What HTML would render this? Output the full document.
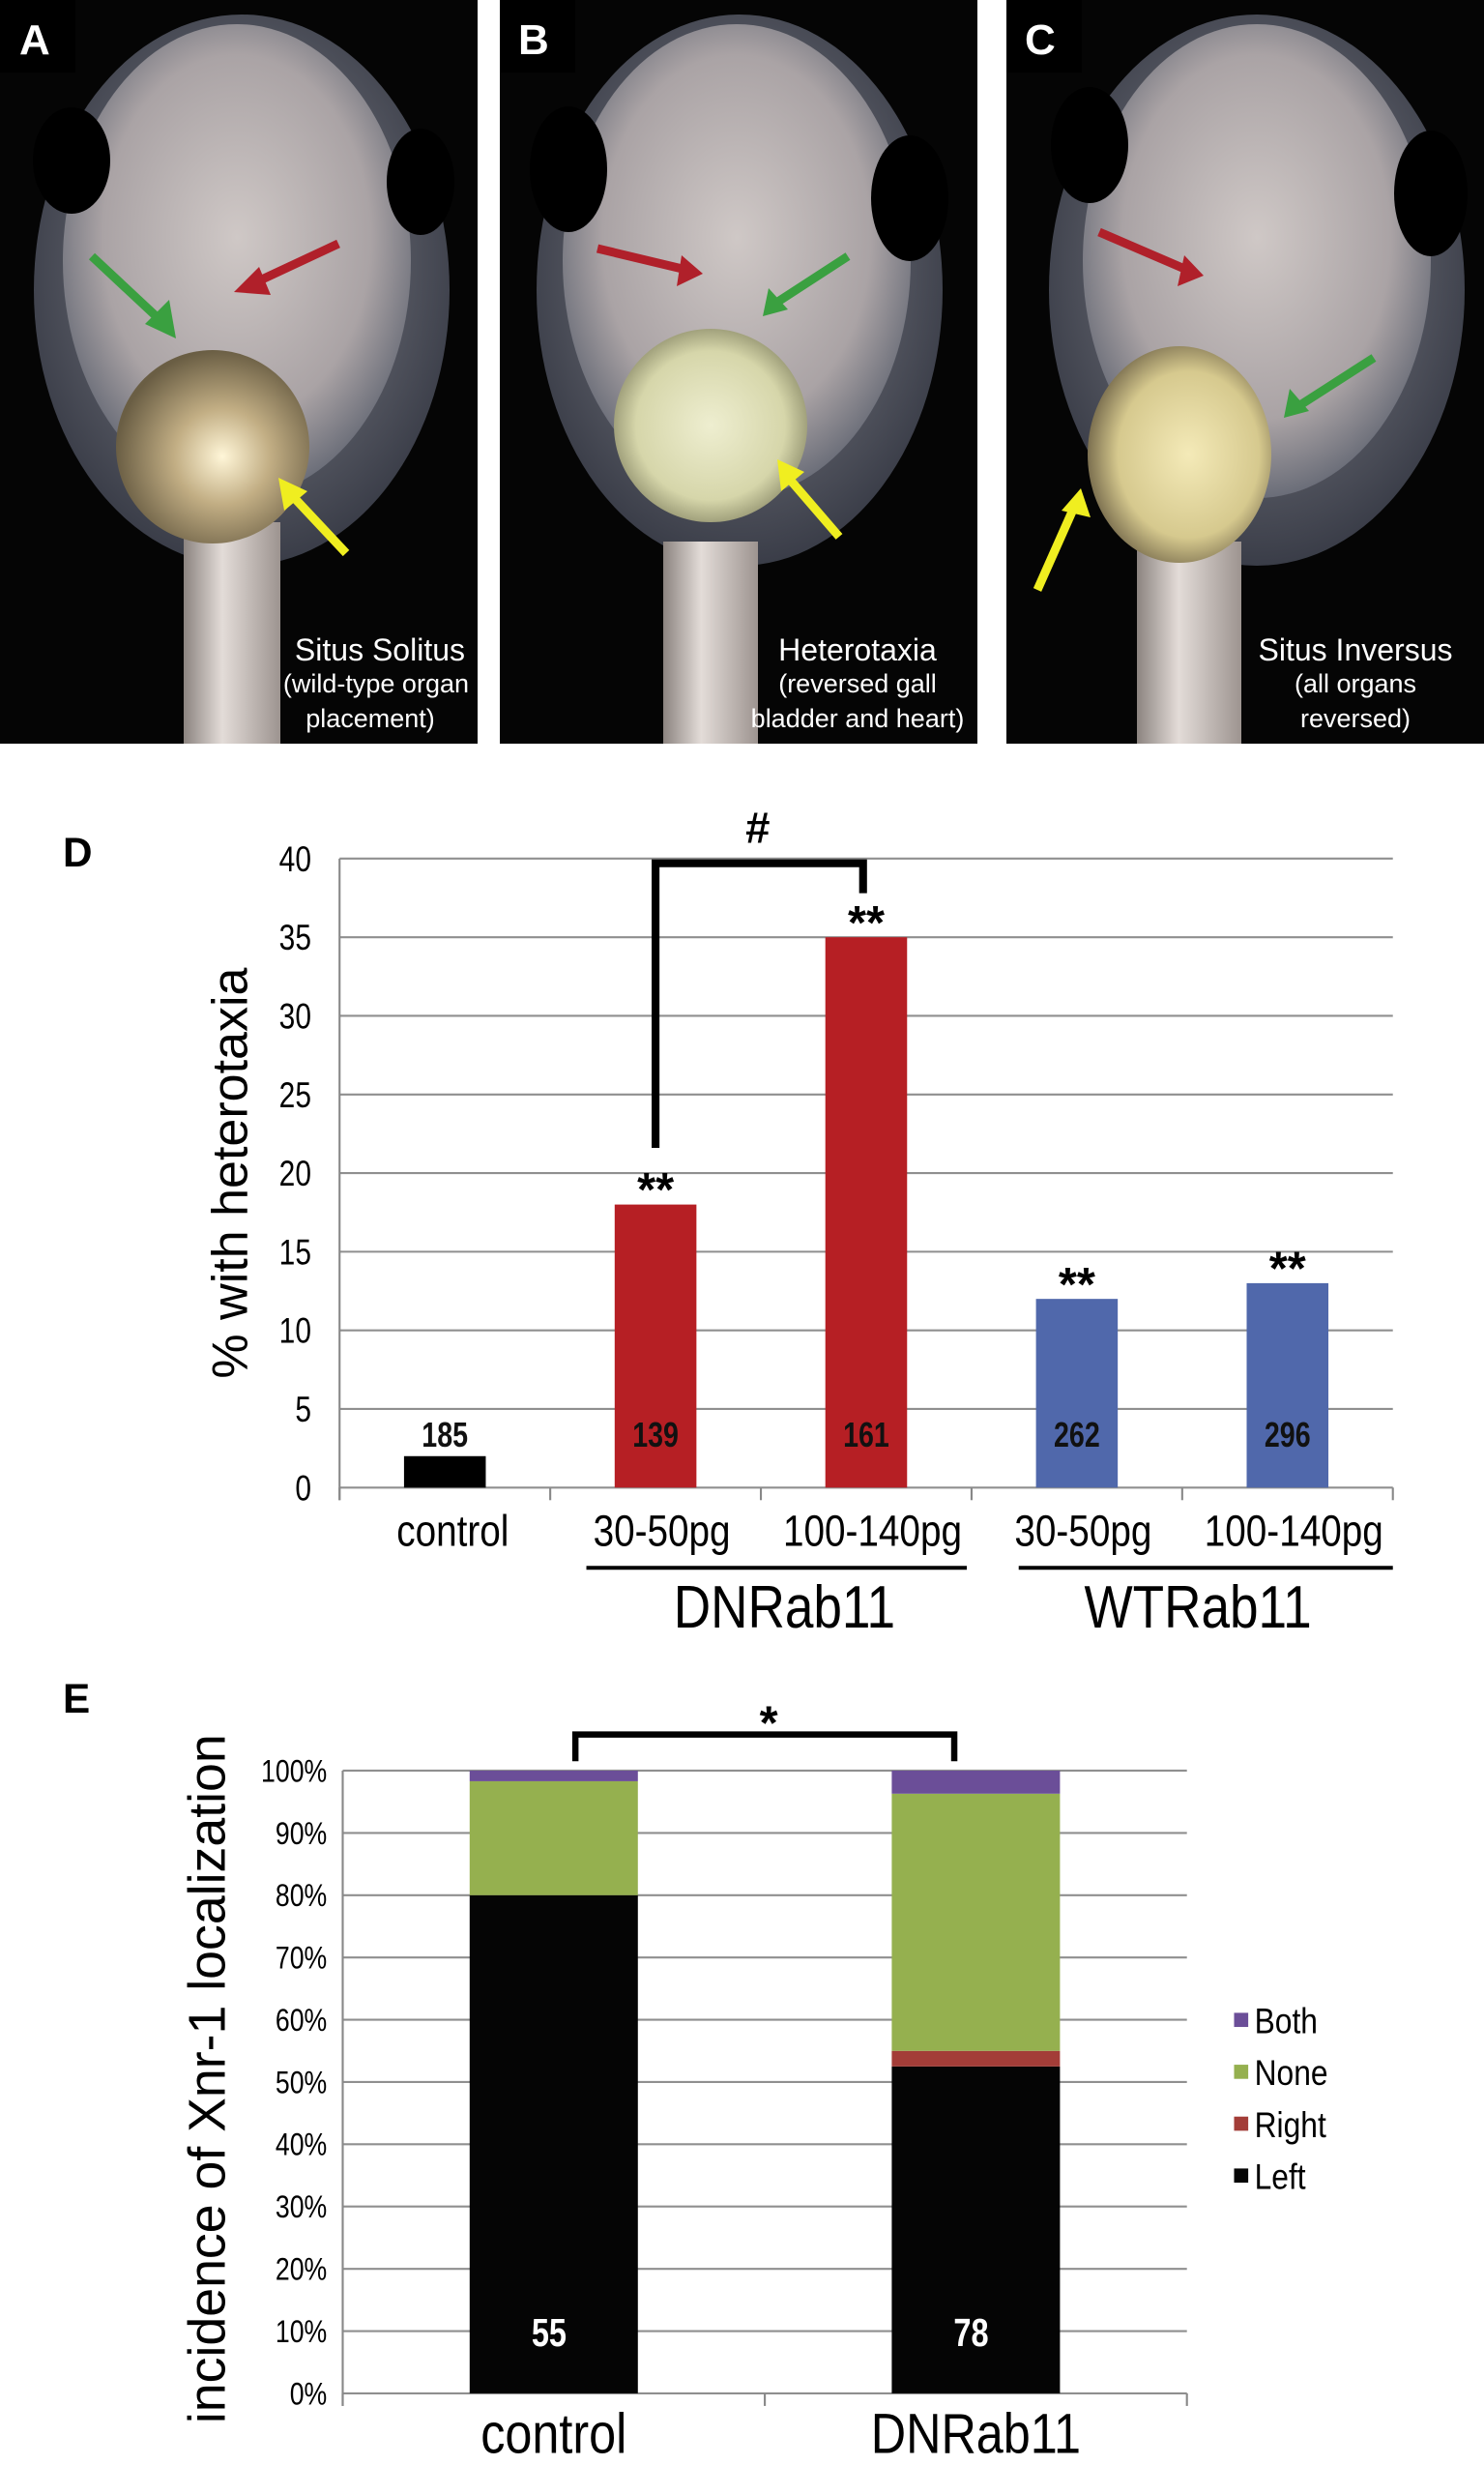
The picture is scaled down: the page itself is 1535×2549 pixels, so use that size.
<!DOCTYPE html>
<html><head><meta charset="utf-8">
<style>
html,body{margin:0;padding:0;background:#fff;}
svg{display:block;}
text{font-family:"Liberation Sans",sans-serif;}
</style></head>
<body>
<svg id="fig" width="1535" height="2549" viewBox="0 0 1535 2549" xmlns="http://www.w3.org/2000/svg">
<defs>
<radialGradient id="headG" cx="50%" cy="45%" r="55%"><stop offset="0" stop-color="#cfc8c6"/><stop offset="0.7" stop-color="#aaa3a5"/><stop offset="1" stop-color="#6a6d78"/></radialGradient>
<radialGradient id="gutA" cx="55%" cy="55%" r="55%"><stop offset="0" stop-color="#fff6d8"/><stop offset="0.45" stop-color="#c2ae84"/><stop offset="1" stop-color="#6a5e44"/></radialGradient>
<radialGradient id="gutB" cx="50%" cy="50%" r="55%"><stop offset="0" stop-color="#eeeed0"/><stop offset="0.7" stop-color="#d6d6aa"/><stop offset="1" stop-color="#8a8a68"/></radialGradient>
<radialGradient id="gutC" cx="55%" cy="50%" r="55%"><stop offset="0" stop-color="#f4eab8"/><stop offset="0.7" stop-color="#d6c98e"/><stop offset="1" stop-color="#7c7050"/></radialGradient>
<radialGradient id="bodyG" cx="50%" cy="45%" r="55%"><stop offset="0" stop-color="#8a8b93"/><stop offset="1" stop-color="#3a3d48"/></radialGradient>
<linearGradient id="tailG" x1="0" x2="1" y1="0" y2="0"><stop offset="0" stop-color="#8c8480"/><stop offset="0.4" stop-color="#e3dcd8"/><stop offset="1" stop-color="#9d9490"/></linearGradient>
</defs>

<g>
<rect x="0" y="0" width="494" height="769" fill="#050505"/>
<ellipse cx="250" cy="300" rx="215" ry="285" fill="url(#bodyG)"/>
<ellipse cx="245" cy="270" rx="180" ry="245" fill="url(#headG)"/>
<rect x="190" y="540" width="100" height="229" fill="url(#tailG)"/>
<ellipse cx="74" cy="166" rx="40" ry="55" fill="#000"/>
<ellipse cx="435" cy="188" rx="35" ry="55" fill="#000"/>
<circle cx="220" cy="462" r="100" fill="url(#gutA)"/>
<line x1="350" y1="252" x2="258" y2="295" stroke="#b0202a" stroke-width="9"/><polygon points="242,302 268,276 280,305" fill="#b0202a"/>
<line x1="95" y1="265" x2="170" y2="335" stroke="#3aa040" stroke-width="9"/><polygon points="182,350 150,335 175,310" fill="#3aa040"/>
<line x1="358" y1="572" x2="298" y2="508" stroke="#f0ee20" stroke-width="9"/><polygon points="288,494 318,508 294,528" fill="#f0ee20"/>
<rect x="0" y="0" width="78" height="75" fill="#000"/>
<text x="20" y="56" font-size="44" font-weight="bold" fill="#fff">A</text>
<text x="481" y="683" font-size="32" fill="#fff" text-anchor="end">Situs Solitus</text>
<text x="485" y="716" font-size="27" fill="#fff" text-anchor="end">(wild-type organ</text>
<text x="383" y="752" font-size="27" fill="#fff" text-anchor="middle">placement)</text>
</g>

<g>
<rect x="517" y="0" width="494" height="769" fill="#050505"/>
<ellipse cx="765" cy="300" rx="210" ry="285" fill="url(#bodyG)"/>
<ellipse cx="762" cy="270" rx="180" ry="245" fill="url(#headG)"/>
<rect x="686" y="560" width="98" height="209" fill="url(#tailG)"/>
<ellipse cx="588" cy="175" rx="40" ry="65" fill="#000"/>
<ellipse cx="941" cy="205" rx="40" ry="65" fill="#000"/>
<circle cx="735" cy="440" r="100" fill="url(#gutB)"/>
<line x1="618" y1="257" x2="710" y2="279" stroke="#b0202a" stroke-width="9"/><polygon points="727,283 700,296 705,264" fill="#b0202a"/>
<line x1="877" y1="265" x2="800" y2="315" stroke="#3aa040" stroke-width="9"/><polygon points="789,327 795,298 815,320" fill="#3aa040"/>
<line x1="868" y1="555" x2="812" y2="490" stroke="#f0ee20" stroke-width="9"/><polygon points="804,475 832,488 808,508" fill="#f0ee20"/>
<rect x="517" y="0" width="78" height="75" fill="#000"/>
<text x="536" y="56" font-size="44" font-weight="bold" fill="#fff">B</text>
<text x="887" y="683" font-size="32" fill="#fff" text-anchor="middle">Heterotaxia</text>
<text x="887" y="716" font-size="27" fill="#fff" text-anchor="middle">(reversed gall</text>
<text x="887" y="752" font-size="27" fill="#fff" text-anchor="middle">bladder and heart)</text>
</g>

<g>
<rect x="1041" y="0" width="494" height="769" fill="#050505"/>
<ellipse cx="1300" cy="300" rx="215" ry="285" fill="url(#bodyG)"/>
<ellipse cx="1300" cy="270" rx="180" ry="245" fill="url(#headG)"/>
<rect x="1176" y="560" width="108" height="209" fill="url(#tailG)"/>
<ellipse cx="1127" cy="150" rx="40" ry="60" fill="#000"/>
<ellipse cx="1480" cy="200" rx="38" ry="65" fill="#000"/>
<ellipse cx="1220" cy="470" rx="95" ry="112" fill="url(#gutC)"/>
<line x1="1137" y1="240" x2="1230" y2="280" stroke="#b0202a" stroke-width="9"/><polygon points="1245,285 1218,296 1225,264" fill="#b0202a"/>
<line x1="1421" y1="370" x2="1340" y2="422" stroke="#3aa040" stroke-width="9"/><polygon points="1328,432 1334,402 1354,425" fill="#3aa040"/>
<line x1="1073" y1="610" x2="1113" y2="520" stroke="#f0ee20" stroke-width="9"/><polygon points="1118,505 1128,535 1098,528" fill="#f0ee20"/>
<rect x="1041" y="0" width="78" height="75" fill="#000"/>
<text x="1060" y="56" font-size="44" font-weight="bold" fill="#fff">C</text>
<text x="1402" y="683" font-size="32" fill="#fff" text-anchor="middle">Situs Inversus</text>
<text x="1402" y="716" font-size="27" fill="#fff" text-anchor="middle">(all organs</text>
<text x="1402" y="752" font-size="27" fill="#fff" text-anchor="middle">reversed)</text>
</g>

<g transform="scale(1.6261)">
  <g id="chartD">
    <text x="40" y="551" font-size="26" font-weight="bold">D</text>
    <g id="dGrid"></g>
    <text transform="translate(157,746) rotate(-90)" text-anchor="middle" font-size="32">% with heterotaxia</text>
    <g id="dBars"></g>
    <path d="M417,730 L417,549 L549,549 L549,568" fill="none" stroke="#000" stroke-width="5"/>
    <text x="482" y="536" font-size="28" font-weight="bold" text-anchor="middle">#</text>
    <line x1="373" y1="997" x2="615" y2="997" stroke="#000" stroke-width="2.5"/>
    <line x1="648" y1="997" x2="886" y2="997" stroke="#000" stroke-width="2.5"/>
    <text class="n" x="499" y="1035" font-size="38" text-anchor="middle">DNRab11</text>
    <text class="n" x="762" y="1035" font-size="38" text-anchor="middle">WTRab11</text>
  </g>
  <g id="chartE">
    <text x="40" y="1089" font-size="26" font-weight="bold">E</text>
    <g id="eGrid"></g>
    <text transform="translate(143,1322) rotate(-90)" text-anchor="middle" font-size="33">incidence of Xnr-1 localization</text>
    <g id="eBars"></g>
    <path d="M366,1120 L366,1103 L607,1103 L607,1120" fill="none" stroke="#000" stroke-width="4"/>
    <text x="489" y="1106" font-size="30" font-weight="bold" text-anchor="middle">*</text>
    <g id="eLegend"></g>
  </g>
</g>
</svg>
<script>
const NS="http://www.w3.org/2000/svg";
// Chart D data
const dCategories=["control","30-50pg","100-140pg","30-50pg","100-140pg"];
const dValues=[2,18,35,12,13];
const dCounts=["185","139","161","262","296"];
const dStars=["","**","**","**","**"];
const dTicks=[0,5,10,15,20,25,30,35,40];
// Chart E data
const eCategories=["control","DNRab11"];
const eSeries=["Left","Right","None","Both"];
const eLeft=[80,52.5];
const eRight=[0,2.5];
const eNone=[18.3,41.3];
const eBoth=[1.7,3.7];
const eCounts=["55","78"];
const eTicks=[0,10,20,30,40,50,60,70,80,90,100];

function mk(tag,attrs,parent,txt){const e=document.createElementNS(NS,tag);for(const k in attrs)e.setAttribute(k,attrs[k]);if(txt!==undefined)e.textContent=txt;parent.appendChild(e);return e;}
function condense(el,s){const x=parseFloat(el.getAttribute('x'));el.setAttribute('transform','translate('+x+' 0) scale('+s+' 1) translate('+(-x)+' 0)');}

const dX0=216,dX1=886,dY0=946,dY1=546,dMax=40;
const dy=v=>dY0-(v/dMax)*(dY0-dY1);
const dBand=(dX1-dX0)/dCategories.length;
const dx=i=>dX0+dBand*(i+0.5);
const dColors=["#000000","#b61f24","#b61f24","#5068ab","#5068ab"];
const dG=document.getElementById('dGrid'), dB=document.getElementById('dBars');
dTicks.forEach(t=>{
  const l=mk('line',{x1:dX0,x2:dX1,y1:dy(t),y2:dy(t),stroke:'#8f8f8f','stroke-width':1.3},dG);
  
  
  const tx=mk('text',{x:dX0-18,y:dy(t)+8,'font-size':23,'text-anchor':'end'},dG,String(t));
  
  
  condense(tx,0.8);
});
mk('line',{x1:dX0,x2:dX0,y1:dY1,y2:dY0+8,stroke:'#888','stroke-width':1.3},dG);
for(let i=0;i<=dCategories.length;i++){mk('line',{x1:dX0+dBand*i,x2:dX0+dBand*i,y1:dY0,y2:dY0+8,stroke:'#888','stroke-width':1.3},dG);}
dCategories.forEach((c,i)=>{
  const cx=dx(i), top=dy(dValues[i]);
  const r=mk('rect',{x:cx-26,y:top,width:52,height:dY0-top,fill:dColors[i]},dB);
  
  
  const n=mk('text',{x:cx,y:920,'font-size':22,'font-weight':'bold','text-anchor':'middle',fill:'#111'},dB,dCounts[i]);
  
  
  condense(n,0.8);
  if(dStars[i]){
    const s=mk('text',{x:cx,y:top+1,'font-size':30,'font-weight':'bold','text-anchor':'middle'},dB,dStars[i]);
    
    
  }
  const lb=mk('text',{x:cx+(i===0?5:4),y:983,'font-size':28,'text-anchor':'middle'},dB,c);
  
  
  condense(lb,0.85);
});

const eX0=218,eX1=755,eY0=1522,eY1=1126;
const ey=v=>eY0-(v/100)*(eY0-eY1);
const eBand=(eX1-eX0)/eCategories.length;
const ex=i=>eX0+eBand*(i+0.5);
const eColors={Left:"#050505",Right:"#a33d38",None:"#95b04f",Both:"#6b4e98"};
const eData={Left:eLeft,Right:eRight,None:eNone,Both:eBoth};
const eG=document.getElementById('eGrid'), eB=document.getElementById('eBars');
eTicks.forEach(t=>{
  const l=mk('line',{x1:eX0,x2:eX1,y1:ey(t),y2:ey(t),stroke:'#8f8f8f','stroke-width':1.3},eG);
  
  
  const tx=mk('text',{x:eX0-10,y:ey(t)+7,'font-size':20,'text-anchor':'end'},eG,t+'%');
  
  
  condense(tx,0.82);
});
mk('line',{x1:eX0,x2:eX0,y1:eY1,y2:eY0+8,stroke:'#888','stroke-width':1.3},eG);
for(let i=0;i<=eCategories.length;i++){mk('line',{x1:eX0+eBand*i,x2:eX0+eBand*i,y1:eY0,y2:eY0+8,stroke:'#888','stroke-width':1.3},eG);}
eCategories.forEach((c,i)=>{
  const cx=ex(i); let acc=0;
  eSeries.forEach(s=>{
    const v=eData[s][i]; if(v<=0){return;}
    const r=mk('rect',{x:cx-53.5,y:ey(acc+v),width:107,height:ey(acc)-ey(acc+v),fill:eColors[s]},eB);
    
    
    acc+=v;
  });
  const n=mk('text',{x:cx-3,y:1492,'font-size':25,'font-weight':'bold','text-anchor':'middle',fill:'#fff'},eB,eCounts[i]);
  
  
  condense(n,0.8);
  const lb=mk('text',{x:cx,y:1560,'font-size':36,'text-anchor':'middle'},eB,c);
  
  
  condense(lb,0.86);
});
const eL=document.getElementById('eLegend');
["Both","None","Right","Left"].forEach((s,k)=>{
  const y=1285+33*k;
  const g=mk('g',{},eL);
  
  
  mk('rect',{x:785,y:y-5,width:9,height:9,fill:eColors[s]},g);
  const t=mk('text',{x:798,y:y+8,'font-size':23},g,s);
  condense(t,0.85);
});
document.querySelectorAll('text.n').forEach(t=>condense(t,0.86));
</script>
</body></html>
